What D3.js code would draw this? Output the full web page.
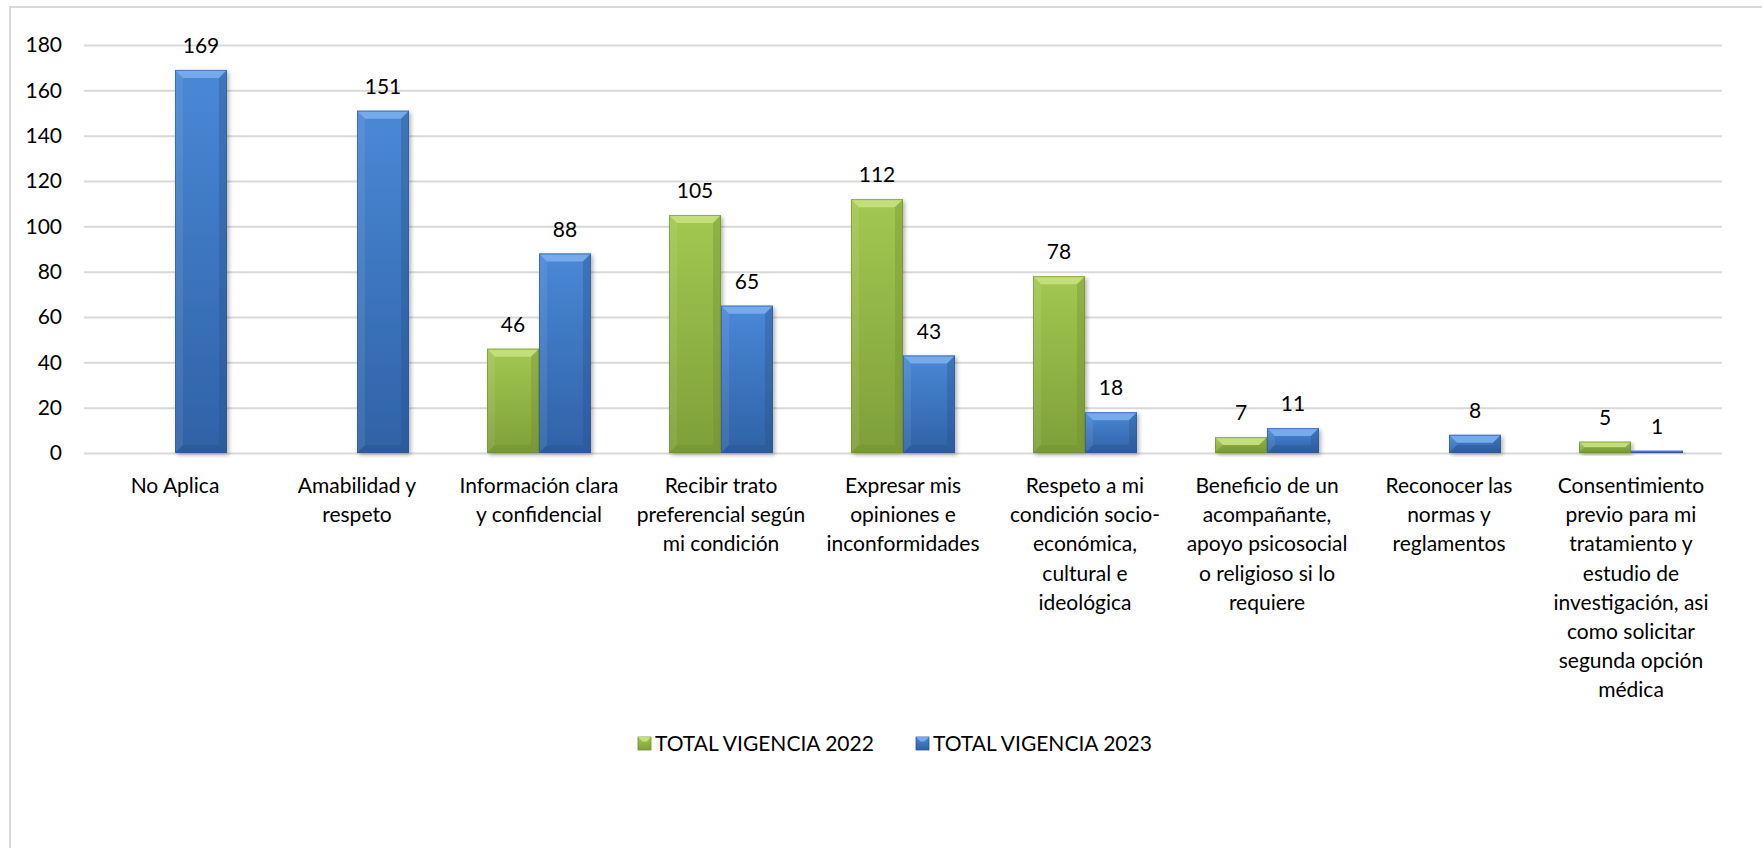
<!DOCTYPE html>
<html lang="es">
<head>
<meta charset="utf-8">
<title>Derechos - Total vigencia 2022 vs 2023</title>
<script src="https://cdn.jsdelivr.net/npm/d3@7"></script>
<style>
  html, body { margin: 0; padding: 0; background: #ffffff; }
  svg { display: block; font-family: Lato, "Open Sans", sans-serif; }
</style>
</head>
<body>
<svg id="chart" width="1762" height="848"></svg>
<script>
// Category labels (line breaks mark how each label wraps under the axis)
const categories = [
  "No Aplica",
  "Amabilidad y\nrespeto",
  "Información clara\ny confidencial",
  "Recibir trato\npreferencial según\nmi condición",
  "Expresar mis\nopiniones e\ninconformidades",
  "Respeto a mi\ncondición socio-\neconómica,\ncultural e\nideológica",
  "Beneficio de un\nacompañante,\napoyo psicosocial\no religioso si lo\nrequiere",
  "Reconocer las\nnormas y\nreglamentos",
  "Consentimiento\nprevio para mi\ntratamiento y\nestudio de\ninvestigación, asi\ncomo solicitar\nsegunda opción\nmédica"
];

// Series values (null = no value reported)
const vigencia2022 = [null, null, 46, 105, 112, 78, 7, null, 5];
const vigencia2023 = [169, 151, 88, 65, 43, 18, 11, 8, 1];

const seriesNames = ["TOTAL VIGENCIA 2022", "TOTAL VIGENCIA 2023"];
const yTicks = [0, 20, 40, 60, 80, 100, 120, 140, 160, 180];

// Palette per series: gradient top/bottom, bevel light/dark, outline
const palette = {
  "TOTAL VIGENCIA 2022": { top: "#a3c851", bottom: "#7e9f39", light: "#c3df7a", dark: "#6d8b2f", edge: "#6f8c31" },
  "TOTAL VIGENCIA 2023": { top: "#4a88d6", bottom: "#2f62a6", light: "#74aaeb", dark: "#274f87", edge: "#2b5896" }
};

const W = 1762, H = 848;
const plot = { left: 84, right: 1722, top: 45, bottom: 453 };
const fontSize = 21;

const svg = d3.select("#chart");
const defs = svg.append("defs");

// Outer chart frame
svg.append("rect")
  .attr("x", 10).attr("y", 7)
  .attr("width", W + 40).attr("height", H + 40)
  .attr("fill", "#ffffff")
  .attr("stroke", "#d9d9d9").attr("stroke-width", 2);

// Gradients and shadow filter
Object.entries(palette).forEach(([name, c], i) => {
  const g = defs.append("linearGradient")
    .attr("id", "grad" + i).attr("x1", 0).attr("y1", 0).attr("x2", 0).attr("y2", 1);
  g.append("stop").attr("offset", "0%").attr("stop-color", c.top);
  g.append("stop").attr("offset", "100%").attr("stop-color", c.bottom);
});
const shadow = defs.append("filter").attr("id", "shadow")
  .attr("x", "-20%").attr("y", "-20%").attr("width", "140%").attr("height", "140%");
shadow.append("feGaussianBlur").attr("in", "SourceAlpha").attr("stdDeviation", 2);
shadow.append("feOffset").attr("dx", 1.5).attr("dy", 2).attr("result", "off");
shadow.append("feComponentTransfer").append("feFuncA").attr("type", "linear").attr("slope", 0.3);
const merge = shadow.append("feMerge");
merge.append("feMergeNode");
merge.append("feMergeNode").attr("in", "SourceGraphic");

// Scales
const x = d3.scaleBand()
  .domain(categories)
  .range([plot.left, plot.right])
  .paddingInner(78 / 182)
  .paddingOuter(39 / 182);

const x1 = d3.scaleBand()
  .domain(seriesNames)
  .range([0, x.bandwidth()]);

const y = d3.scaleLinear()
  .domain([0, 180])
  .range([plot.bottom, plot.top]);

// Y axis with horizontal gridlines
const yAxis = svg.append("g")
  .attr("transform", `translate(${plot.left},0)`)
  .call(d3.axisLeft(y)
    .tickValues(yTicks)
    .tickSize(-(plot.right - plot.left))
    .tickPadding(22)
    .tickFormat(d3.format("d")));
yAxis.select(".domain").remove();
yAxis.selectAll(".tick line").attr("stroke", "#d9d9d9").attr("stroke-width", 2);
yAxis.selectAll(".tick text")
  .attr("fill", "#000").attr("font-size", fontSize)
  .attr("font-family", "Lato, 'Open Sans', sans-serif");

// Bars with bevel shading
const rows = [];
categories.forEach((cat, i) => {
  [[seriesNames[0], vigencia2022[i]], [seriesNames[1], vigencia2023[i]]].forEach(([s, v]) => {
    if (v !== null && v !== undefined) rows.push({ cat, series: s, value: v });
  });
});

const barG = svg.append("g");
rows.forEach(d => {
  const c = palette[d.series];
  const si = seriesNames.indexOf(d.series);
  const x0 = x(d.cat) + x1(d.series);
  const w = x1.bandwidth();
  const y0 = y(d.value);
  const y1 = y(0);
  const h = y1 - y0;
  const b = Math.min(8, h / 2, w / 2);
  const g = barG.append("g").attr("filter", "url(#shadow)");
  g.append("rect")
    .attr("x", x0).attr("y", y0).attr("width", w).attr("height", h)
    .attr("fill", `url(#grad${si})`);
  if (h > 1.5) {
    // top bevel
    g.append("polygon")
      .attr("points", [[x0, y0], [x0 + w, y0], [x0 + w - b, y0 + b], [x0 + b, y0 + b]].map(p => p.join(",")).join(" "))
      .attr("fill", c.light);
    // left bevel
    g.append("polygon")
      .attr("points", [[x0, y0], [x0 + b, y0 + b], [x0 + b, y1 - b], [x0, y1]].map(p => p.join(",")).join(" "))
      .attr("fill", "#ffffff").attr("fill-opacity", 0.08);
    // right bevel
    g.append("polygon")
      .attr("points", [[x0 + w, y0], [x0 + w - b, y0 + b], [x0 + w - b, y1 - b], [x0 + w, y1]].map(p => p.join(",")).join(" "))
      .attr("fill", c.dark).attr("fill-opacity", 0.35);
    // bottom bevel
    g.append("polygon")
      .attr("points", [[x0, y1], [x0 + b, y1 - b], [x0 + w - b, y1 - b], [x0 + w, y1]].map(p => p.join(",")).join(" "))
      .attr("fill", c.dark).attr("fill-opacity", 0.35);
  }
  g.append("rect")
    .attr("x", x0 + 0.5).attr("y", y0 + 0.5).attr("width", w - 1).attr("height", Math.max(0, h - 1))
    .attr("fill", "none").attr("stroke", c.edge).attr("stroke-width", 1).attr("stroke-opacity", 0.6);
});

// Value labels
svg.append("g").selectAll("text")
  .data(rows)
  .join("text")
  .attr("x", d => x(d.cat) + x1(d.series) + x1.bandwidth() / 2)
  .attr("y", d => y(d.value) - 17)
  .attr("text-anchor", "middle")
  .attr("font-size", fontSize)
  .attr("fill", "#000")
  .text(d => d.value);

// Category labels
const catG = svg.append("g");
categories.forEach(cat => {
  const t = catG.append("text")
    .attr("x", x(cat) + x.bandwidth() / 2)
    .attr("y", plot.bottom + 40)
    .attr("text-anchor", "middle")
    .attr("font-size", fontSize)
    .attr("fill", "#000");
  cat.split("\n").forEach((line, i) => {
    t.append("tspan")
      .attr("x", x(cat) + x.bandwidth() / 2)
      .attr("dy", i === 0 ? 0 : 29.2)
      .text(line);
  });
});

// Legend
const legendItems = [
  { name: seriesNames[0], x: 638 },
  { name: seriesNames[1], x: 916 }
];
const legend = svg.append("g");
legendItems.forEach((item, i) => {
  const c = palette[item.name];
  legend.append("rect")
    .attr("x", item.x).attr("y", 737).attr("width", 13).attr("height", 13)
    .attr("fill", `url(#grad${i})`).attr("stroke", c.edge).attr("stroke-width", 0.8);
  legend.append("polygon")
    .attr("points", [[item.x, 737], [item.x + 13, 737], [item.x + 8.5, 741.5], [item.x + 4.5, 741.5]].map(p => p.join(",")).join(" "))
    .attr("fill", c.light);
  legend.append("text")
    .attr("x", item.x + 17).attr("y", 751)
    .attr("font-size", fontSize)
    .attr("fill", "#000")
    .text(item.name);
});
</script>
</body>
</html>
